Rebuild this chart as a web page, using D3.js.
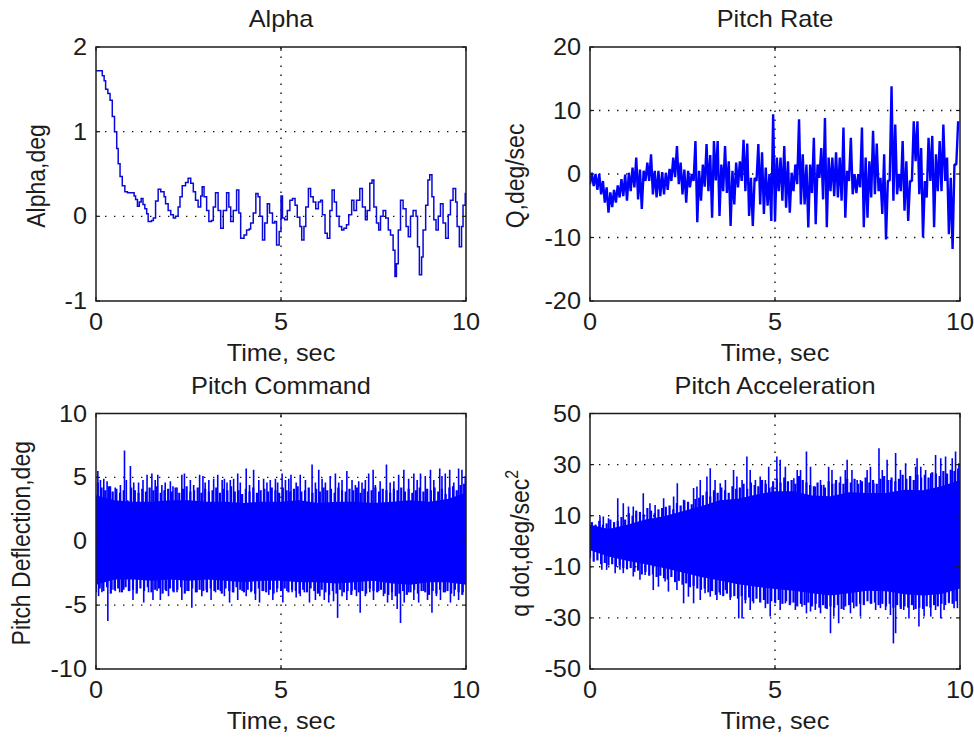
<!DOCTYPE html>
<html>
<head>
<meta charset="utf-8">
<script src="https://cdn.jsdelivr.net/npm/d3@7"></script>
<style>
  body { margin: 0; background: #fff; }
  svg text { font-family: "Liberation Sans", Arial, Helvetica, sans-serif; font-size: 23px; fill: #1c1c1c; }
</style>
</head>
<body>
<svg id="fig" width="974" height="737"></svg>
<script>
// ---------- shared axis values ----------
const timeTicks = [0, 5, 10];
const alphaTicks = [-1, 0, 1, 2];
const rateTicks = [-20, -10, 0, 10, 20];
const cmdTicks = [-10, -5, 0, 5, 10];
const accelTicks = [-50, -30, -10, 10, 30, 50];

// ---------- Alpha (deg), sample-and-hold trace: [time s, alpha deg] ----------
const alphaSamples = [
  [0,1.72],[0.17,1.66],[0.22,1.60],[0.26,1.50],[0.32,1.45],[0.38,1.37],[0.44,1.18],[0.50,1.00],
  [0.56,0.80],[0.60,0.62],[0.65,0.47],[0.71,0.36],[0.78,0.29],[0.85,0.28],[1.03,0.24],[1.07,0.20],
  [1.12,0.12],[1.17,0.17],[1.22,0.21],[1.27,0.14],[1.32,0.09],[1.37,0.03],[1.41,-0.06],[1.50,-0.05],
  [1.55,-0.02],[1.61,0.18],[1.68,0.32],[1.75,0.29],[1.84,0.23],[1.88,0.15],[1.95,0.07],[2.02,0.02],
  [2.09,-0.02],[2.15,0.00],[2.22,0.11],[2.27,0.23],[2.33,0.36],[2.42,0.40],[2.49,0.45],[2.56,0.39],
  [2.63,0.29],[2.69,0.19],[2.76,0.11],[2.83,0.24],[2.87,0.35],[2.92,0.23],[2.99,0.07],[3.05,-0.06],
  [3.12,-0.05],[3.17,0.11],[3.23,0.28],[3.30,0.07],[3.37,-0.14],[3.44,0.07],[3.53,0.28],[3.59,0.11],
  [3.64,-0.06],[3.71,0.07],[3.80,0.31],[3.86,0.04],[3.91,-0.26],[4.00,-0.22],[4.07,-0.16],[4.14,-0.15],
  [4.18,-0.08],[4.25,0.04],[4.32,0.27],[4.38,0.23],[4.43,0.00],[4.50,-0.28],[4.56,-0.08],[4.63,0.15],
  [4.69,0.04],[4.77,-0.08],[4.83,-0.06],[4.88,-0.34],[4.95,-0.18],[5.00,0.24],[5.04,-0.02],[5.10,-0.04],
  [5.17,0.07],[5.24,0.19],[5.31,0.21],[5.38,0.13],[5.44,-0.01],[5.51,-0.12],[5.56,-0.28],[5.62,-0.12],
  [5.67,0.11],[5.74,0.33],[5.80,0.23],[5.87,0.17],[5.94,0.09],[6.01,0.17],[6.07,0.19],[6.12,0.02],
  [6.19,-0.20],[6.25,-0.26],[6.32,0.07],[6.38,0.31],[6.44,0.17],[6.50,0.00],[6.57,-0.12],[6.64,-0.16],
  [6.70,-0.14],[6.77,-0.10],[6.83,0.02],[6.91,0.19],[6.97,0.07],[7.04,0.19],[7.13,0.33],[7.20,0.11],
  [7.28,-0.04],[7.33,0.07],[7.40,0.39],[7.46,0.43],[7.51,0.11],[7.58,-0.08],[7.64,-0.16],[7.69,0.00],
  [7.76,0.07],[7.83,-0.02],[7.90,-0.16],[7.96,-0.22],[8.03,-0.40],[8.08,-0.71],[8.12,-0.56],[8.17,-0.16],
  [8.23,0.19],[8.30,0.09],[8.38,-0.12],[8.44,-0.24],[8.50,0.00],[8.57,0.07],[8.65,0.00],[8.69,-0.36],
  [8.74,-0.69],[8.80,-0.48],[8.84,-0.16],[8.91,0.13],[8.97,0.43],[9.02,0.49],[9.08,0.23],[9.13,-0.04],
  [9.19,-0.16],[9.25,0.00],[9.31,0.15],[9.38,-0.08],[9.45,-0.26],[9.52,0.02],[9.58,0.19],[9.65,0.33],
  [9.72,0.17],[9.76,-0.12],[9.82,-0.36],[9.88,-0.12],[9.92,0.13],[9.98,0.27],[10,0.27]
];

// ---------- Pitch rate Q (deg/s): local minimum then maximum in each 0.1 s window ----------
const rateWindow = 0.1;
const rateLow = [
  -1.6,-1.9,-2.5,-3.2,-4.5,-6.1,-5.2,-4.5,-3.7,-3.5,
  -4.2,-2.7,-2.1,-4.0,-5.5,-1.1,-1.1,-3.2,-3.7,-3.5,
  -3.2,-2.5,-1.1,-0.5,-1.6,-3.2,-4.5,-2.1,-1.1,-7.6,
  -4.2,-2.0,-2.7,-6.9,-1.0,-6.6,-2.7,-3.0,-8.2,-4.8,
  -2.1,-1.1,-2.7,-6.6,-8.2,-1.1,-4.8,-6.3,-5.0,-7.4,
  -7.5,-2.7,-4.2,-5.3,-6.1,-2.7,-1.6,-4.8,-4.8,-8.4,
  -3.0,-7.9,-0.6,-4.0,-8.4,-2.7,-3.5,-3.7,-4.2,-6.9,
  -1.1,-3.2,-3.0,-2.1,-8.4,-6.9,-3.7,-3.2,-2.7,-6.3,
  -10.3,-1.0,-4.2,-3.2,-2.7,-5.8,-7.4,-1.1,2.0,-3.2,
  -10.0,-3.7,-1.1,-8.4,-2.7,-2.7,-1.1,-9.5,-11.8,1.5
];
const rateHigh = [
  0.2,0.0,0.0,-1.1,-2.1,-2.9,-2.5,-1.8,-0.8,-0.1,
  0.2,1.0,2.6,0.7,0.5,1.8,3.1,0.5,0.5,0.3,
  0.2,0.8,2.6,4.4,1.8,0.7,0.5,0.0,5.2,0.5,
  1.5,4.7,3.0,5.2,5.2,1.5,4.4,2.0,0.5,1.8,
  2.0,5.4,4.8,-0.6,-0.6,4.7,3.4,1.0,0.0,9.4,
  2.6,2.6,4.4,2.0,0.2,1.5,8.6,3.1,1.5,1.5,
  5.7,1.5,4.1,8.8,2.6,2.6,3.4,2.6,7.3,0.5,
  5.7,0.0,0.0,7.3,2.6,2.0,6.8,4.8,-0.6,3.1,
  -1.1,13.8,7.8,0.0,5.2,2.0,-1.1,8.3,8.3,4.1,
  -1.1,5.7,6.0,3.1,5.2,7.8,2.6,-0.6,1.5,8.3
];

// ---------- dense signals: solid core, fine edge every 0.1 s, and tall excursions ----------
const bandTime = [0,0.5,1,1.5,2,2.5,3,3.5,4,4.5,5,5.5,6,6.5,7,7.5,8,8.5,9,9.5,10];
const edgeStep = 0.1;

// Pitch command (deg)
const cmdCoreHigh = [3.6,3.2,3.1,3.1,3.2,3.2,3.1,3.1,3.0,3.1,3.1,3.2,3.0,3.1,3.1,3.0,3.1,3.2,3.1,3.3,3.8];
const cmdCoreLow = [-3.4,-3.0,-3.0,-3.1,-3.0,-3.1,-3.0,-3.1,-3.2,-3.1,-3.1,-3.2,-3.2,-3.3,-3.2,-3.1,-3.3,-3.4,-3.2,-3.2,-3.4];
const cmdEdgeHigh = [
  4.6,4.2,4.0,4.3,3.9,4.1,3.8,4.0,3.2,4.2, 4.0,3.8,4.1,3.9,4.2,4.0,4.3,3.8,4.0,4.1,
  3.9,4.2,3.8,4.1,4.3,3.9,4.0,4.2,3.8,4.1, 3.9,4.0,4.2,3.8,4.1,4.0,4.3,3.9,4.0,3.7,
  4.1,3.9,4.2,3.8,4.0,4.1,3.9,4.2,4.0,3.8, 4.2,4.0,3.9,4.1,4.3,3.9,4.0,4.2,3.8,4.1,
  3.9,4.2,4.0,4.1,3.8,4.2,4.0,3.9,4.1,4.0, 4.2,3.8,4.1,3.9,4.0,4.2,3.9,4.1,4.0,3.8,
  4.1,4.0,4.2,3.9,4.1,3.8,4.0,4.2,3.9,4.1, 4.0,4.2,3.9,4.1,3.7,4.2,4.3,4.0,4.4,4.5
];
const cmdEdgeLow = [
  -4.0,-3.7,-3.9,-3.6,-4.1,-3.8,-3.7,-4.0,-3.6,-3.9, -3.8,-4.1,-3.7,-3.9,-3.6,-4.0,-3.8,-3.7,-4.1,-3.9,
  -3.7,-4.0,-3.8,-3.6,-4.1,-3.9,-3.7,-4.0,-3.8,-3.9, -4.0,-3.7,-3.9,-3.8,-4.1,-3.7,-3.9,-4.0,-3.6,-3.8,
  -4.0,-3.8,-3.9,-4.1,-3.7,-3.9,-4.0,-3.8,-4.1,-3.7, -3.9,-3.7,-4.0,-3.8,-3.9,-4.1,-3.8,-4.0,-3.7,-3.9,
  -4.1,-3.8,-4.0,-4.2,-3.9,-4.1,-3.8,-4.0,-3.9,-4.2, -3.8,-4.0,-3.9,-4.1,-3.7,-3.9,-4.0,-3.8,-4.1,-4.2,
  -4.0,-4.3,-4.1,-3.9,-4.2,-4.0,-3.8,-4.1,-3.9,-4.0, -4.2,-3.9,-4.1,-3.8,-4.0,-3.9,-4.1,-3.8,-4.0,-4.2
];
const cmdPeaks = [
  [0.05,5.5],[0.12,4.8],[0.21,4.9],[0.30,4.7],[0.39,4.3],[0.52,4.2],[0.66,4.4],[0.77,7.1],[0.82,4.8],
  [0.93,5.9],[1.02,4.6],[1.15,4.6],[1.27,4.8],[1.38,5.2],[1.51,5.3],[1.60,4.8],[1.67,5.2],[1.78,4.4],
  [1.87,4.6],[2.01,4.7],[2.08,4.3],[2.19,4.2],[2.32,5.2],[2.39,5.3],[2.55,4.8],[2.64,4.4],[2.80,5.2],
  [2.89,5.1],[2.95,4.6],[3.05,4.8],[3.18,4.9],[3.29,5.2],[3.41,4.8],[3.47,4.9],[3.54,4.6],[3.63,4.8],
  [3.72,4.9],[3.83,5.3],[3.90,4.6],[4.06,5.7],[4.15,4.4],[4.26,5.6],[4.40,4.8],[4.53,4.9],[4.62,4.6],
  [4.71,4.8],[4.85,4.9],[4.91,4.6],[5.03,5.3],[5.12,4.8],[5.21,4.9],[5.27,5.2],[5.41,4.6],[5.52,5.2],
  [5.66,4.8],[5.84,6.0],[5.93,4.6],[6.02,5.6],[6.11,4.9],[6.20,4.6],[6.33,5.1],[6.47,5.3],[6.56,4.6],
  [6.65,4.8],[6.78,5.5],[6.92,4.8],[7.01,4.4],[7.10,4.7],[7.19,4.6],[7.28,4.8],[7.37,5.3],[7.49,5.6],
  [7.55,4.4],[7.68,4.7],[7.85,6.0],[7.95,4.6],[8.05,4.7],[8.18,5.2],[8.32,5.6],[8.45,4.9],[8.59,5.3],
  [8.68,4.8],[8.77,5.3],[8.90,5.1],[9.04,5.6],[9.13,4.8],[9.29,5.7],[9.35,5.1],[9.44,5.3],[9.56,5.6],
  [9.67,4.6],[9.80,5.7],[9.89,5.6],[9.98,5.1]
];
const cmdTroughs = [
  [0.07,-4.3],[0.16,-4.0],[0.32,-6.25],[0.43,-3.8],[0.52,-3.9],[0.64,-4.0],[0.75,-3.8],[0.88,-3.9],
  [1.00,-4.6],[1.11,-3.9],[1.29,-4.8],[1.42,-4.0],[1.54,-4.6],[1.65,-3.9],[1.74,-4.6],[1.87,-3.8],
  [1.96,-4.3],[2.08,-3.9],[2.19,-4.0],[2.32,-4.6],[2.46,-3.9],[2.59,-5.2],[2.73,-4.0],[2.86,-4.3],
  [2.98,-3.8],[3.11,-4.6],[3.23,-4.0],[3.36,-3.9],[3.47,-4.3],[3.61,-4.8],[3.72,-4.0],[3.83,-4.6],
  [3.95,-3.9],[4.06,-4.3],[4.19,-4.0],[4.31,-4.6],[4.42,-4.8],[4.53,-3.9],[4.67,-4.2],[4.78,-4.6],
  [4.89,-4.0],[5.05,-4.8],[5.16,-3.9],[5.30,-4.0],[5.41,-4.4],[5.52,-4.3],[5.63,-4.0],[5.77,-4.8],
  [5.93,-4.6],[6.05,-4.3],[6.17,-4.6],[6.29,-4.8],[6.42,-4.7],[6.53,-6.0],[6.65,-4.3],[6.78,-4.6],
  [6.92,-3.9],[7.04,-4.3],[7.14,-5.6],[7.28,-4.3],[7.40,-4.0],[7.50,-4.6],[7.64,-3.9],[7.77,-4.3],
  [7.88,-4.8],[8.00,-4.6],[8.14,-5.3],[8.23,-6.4],[8.33,-4.8],[8.45,-4.0],[8.59,-4.6],[8.72,-4.8],
  [8.86,-3.9],[8.96,-4.6],[9.08,-5.6],[9.20,-4.3],[9.31,-4.6],[9.44,-4.0],[9.58,-4.8],[9.68,-4.3],
  [9.80,-4.6],[9.92,-4.0]
];

// Pitch acceleration (deg/s^2)
const accelCoreHigh = [6.5,4.8,6.5,8.5,9.8,11.7,13.7,16.0,16.6,18.3,19.6,19.6,17.9,17.6,19.2,18.9,18.9,20.2,20.0,21.5,24.0];
const accelCoreLow = [-3.5,-6.0,-7.6,-9.0,-10.5,-12.2,-14.0,-15.4,-16.8,-17.8,-18.7,-19.4,-20.4,-21.2,-20.4,-19.4,-19.6,-20.7,-21.2,-20.6,-18.5];
const accelEdgeHigh = [
  7.5,6.5,8.0,6.5,7.0,8.5,7.5,8.0,9.5,8.5,
  11.0,10.0,12.0,11.5,10.5,13.0,12.0,11.0,12.5,13.0,
  13.5,14.0,12.5,15.0,14.0,16.0,15.5,14.5,16.5,17.0,
  18.0,19.5,17.5,20.0,19.0,21.0,20.0,19.0,21.5,20.5,
  21.0,22.5,20.5,23.0,22.0,21.5,24.0,22.5,21.0,23.5,
  24.5,23.0,25.0,23.5,24.0,22.5,25.5,24.0,23.0,22.0,
  21.5,23.0,22.0,21.0,23.5,22.5,24.0,23.0,22.5,24.5,
  23.0,24.5,22.5,23.5,25.0,23.0,24.0,22.5,24.5,25.5,
  24.0,25.0,23.5,24.5,26.0,24.5,25.5,24.0,26.0,25.0,
  26.0,25.0,27.0,26.5,25.5,27.5,26.5,28.0,27.5,28.5
];
const accelEdgeLow = [
  -6.5,-8.0,-7.5,-9.0,-8.5,-9.5,-9.0,-10.0,-9.5,-10.5,
  -11.0,-10.5,-12.0,-11.5,-13.0,-12.0,-13.5,-13.0,-14.0,-13.5,
  -14.5,-15.0,-14.0,-16.0,-15.5,-17.0,-16.5,-18.0,-17.5,-18.5,
  -19.0,-18.5,-20.0,-19.5,-21.0,-20.0,-21.5,-20.5,-22.0,-21.5,
  -22.5,-21.5,-23.0,-22.0,-23.5,-22.5,-24.0,-23.0,-24.5,-23.5,
  -24.0,-23.0,-24.5,-23.5,-25.0,-24.0,-25.5,-24.5,-25.0,-24.0,
  -25.5,-24.5,-26.0,-25.0,-26.5,-25.5,-26.0,-25.0,-26.5,-25.5,
  -25.0,-24.0,-25.5,-24.5,-25.0,-23.5,-24.5,-24.0,-25.0,-24.5,
  -25.5,-24.5,-26.0,-25.0,-26.5,-25.5,-26.0,-25.0,-26.5,-26.0,
  -26.5,-25.5,-26.0,-25.0,-25.5,-24.5,-25.0,-24.0,-24.5,-23.5
];
const accelPeaks = [
  [0.27,9.7],[0.36,9.7],[0.50,9.0],[0.75,16.8],[0.90,14.9],[1.04,13.6],[1.17,13.6],[1.44,18.8],
  [1.62,14.9],[1.76,14.2],[1.99,16.8],[2.26,17.5],[2.36,22.7],[2.53,16.2],[2.80,20.8],[2.89,21.4],
  [2.98,24.0],[3.16,25.3],[3.25,28.6],[3.38,24.0],[3.52,22.7],[3.66,24.0],[3.88,27.9],[3.97,25.3],
  [4.11,24.0],[4.24,33.2],[4.33,27.9],[4.47,24.0],[4.60,25.3],[4.74,24.0],[4.83,29.2],[4.92,21.4],
  [5.05,33.2],[5.14,31.9],[5.28,29.2],[5.51,24.7],[5.60,27.9],[5.69,27.9],[5.85,35.1],[5.96,29.2],
  [6.09,21.4],[6.23,24.0],[6.32,22.1],[6.45,29.2],[6.54,27.9],[6.63,22.7],[6.77,25.3],[6.90,27.9],
  [6.95,31.9],[7.08,27.9],[7.22,24.0],[7.31,24.0],[7.49,27.9],[7.58,29.2],[7.67,22.7],[7.81,36.4],
  [7.90,27.9],[8.03,31.9],[8.12,24.0],[8.26,34.5],[8.39,27.9],[8.53,30.5],[8.66,25.3],[8.80,29.2],
  [8.84,32.5],[8.94,29.2],[9.07,27.9],[9.21,26.6],[9.34,33.8],[9.48,32.5],[9.61,33.2],[9.79,32.5],
  [9.88,35.1],[9.97,30.5]
];
const accelTroughs = [
  [0.32,-11.2],[0.45,-11.2],[0.68,-12.5],[0.81,-11.2],[0.90,-12.5],[1.17,-13.8],[1.35,-15.1],[1.49,-13.2],
  [1.71,-19.1],[1.85,-17.8],[2.03,-15.8],[2.12,-19.7],[2.35,-19.1],[2.53,-24.3],[2.66,-21.7],[2.80,-24.3],
  [2.98,-23.0],[3.11,-20.4],[3.25,-21.7],[3.43,-23.0],[3.52,-21.0],[3.66,-19.1],[3.79,-23.0],[4.02,-30.2],
  [4.11,-30.2],[4.20,-24.3],[4.33,-26.9],[4.42,-24.3],[4.60,-23.0],[4.74,-26.2],[4.87,-29.5],[5.01,-24.3],
  [5.14,-26.9],[5.28,-24.3],[5.42,-24.3],[5.55,-26.9],[5.73,-25.6],[5.85,-28.2],[5.96,-27.5],[6.09,-26.9],
  [6.23,-28.2],[6.36,-26.2],[6.50,-36.0],[6.59,-29.5],[6.72,-32.1],[6.86,-26.9],[7.04,-28.2],[7.13,-26.2],
  [7.31,-29.5],[7.40,-24.3],[7.58,-24.3],[7.72,-26.9],[7.85,-26.2],[7.99,-26.9],[8.12,-28.9],[8.20,-40.0],
  [8.26,-36.0],[8.39,-25.6],[8.48,-26.9],[8.62,-30.2],[8.75,-26.9],[8.89,-33.4],[9.03,-29.5],[9.21,-29.5],
  [9.34,-26.9],[9.48,-30.2],[9.57,-26.9],[9.70,-24.3],[9.84,-26.2],[9.93,-26.2]
];

// ---------- layout ----------
const svg = d3.select("#fig");
const BLUE = "#0000ff";
const INK = "#1c1c1c";
const STRETCH = 1.1;   // text is drawn slightly wide

const panels = [
  { key: "alpha", left: 96, right: 466, top: 47, bottom: 301, domain: [-1, 2], ticks: alphaTicks,
    title: "Alpha", ylabel: "Alpha,deg", ylabelX: 45 },
  { key: "rate", left: 590, right: 960, top: 47, bottom: 301, domain: [-20, 20], ticks: rateTicks,
    title: "Pitch Rate", ylabel: "Q,deg/sec", ylabelX: 524 },
  { key: "cmd", left: 96, right: 466, top: 413.5, bottom: 669, domain: [-10, 10], ticks: cmdTicks,
    title: "Pitch Command", ylabel: "Pitch Deflection,deg", ylabelX: 30,
    core: [cmdCoreLow, cmdCoreHigh], edge: [cmdEdgeLow, cmdEdgeHigh], spikes: cmdPeaks.concat(cmdTroughs) },
  { key: "accel", left: 590, right: 960, top: 413.5, bottom: 669, domain: [-50, 50], ticks: accelTicks,
    title: "Pitch Acceleration", ylabel: null, ylabelX: 529,
    core: [accelCoreLow, accelCoreHigh], edge: [accelEdgeLow, accelEdgeHigh], spikes: accelPeaks.concat(accelTroughs) }
];

function wideText(parent, x, y, str, anchor) {
  return parent.append("text")
    .attr("transform", `translate(${x},${y}) scale(${STRETCH},1)`)
    .attr("text-anchor", anchor || "middle")
    .text(str);
}

panels.forEach(p => {
  const x = d3.scaleLinear().domain([0, 10]).range([p.left, p.right]);
  const y = d3.scaleLinear().domain(p.domain).range([p.bottom, p.top]);
  const g = svg.append("g").attr("class", "panel-" + p.key);

  const clipId = "clip-" + p.key;
  svg.append("clipPath").attr("id", clipId)
    .append("rect").attr("x", p.left).attr("y", p.top)
    .attr("width", p.right - p.left).attr("height", p.bottom - p.top);

  // dotted grid at interior ticks
  const grid = g.append("g").attr("stroke", "#111").attr("stroke-width", 1.4)
    .attr("stroke-dasharray", "1.4,7.6");
  timeTicks.filter(t => t > 0 && t < 10).forEach(t => {
    grid.append("line").attr("x1", x(t)).attr("x2", x(t)).attr("y1", p.bottom).attr("y2", p.top);
  });
  p.ticks.filter(v => v > p.domain[0] && v < p.domain[1]).forEach(v => {
    grid.append("line").attr("x1", p.left).attr("x2", p.right).attr("y1", y(v)).attr("y2", y(v));
  });

  const plot = g.append("g").attr("clip-path", `url(#${clipId})`);

  if (p.key === "alpha") {
    const line = d3.line().x(d => x(d[0])).y(d => y(d[1])).curve(d3.curveStepAfter);
    plot.append("path").datum(alphaSamples).attr("d", line)
      .attr("fill", "none").attr("stroke", "#0a0ad8").attr("stroke-width", 1.5);
  }

  if (p.key === "rate") {
    const pts = [];
    rateLow.forEach((lo, i) => {
      pts.push([i * rateWindow, lo]);
      pts.push([i * rateWindow + rateWindow / 2, rateHigh[i]]);
    });
    const line = d3.line().x(d => x(d[0])).y(d => y(d[1]));
    plot.append("path").datum(pts).attr("d", line)
      .attr("fill", "none").attr("stroke", BLUE).attr("stroke-width", 2.4)
      .attr("stroke-linejoin", "bevel");
  }

  if (p.core) {
    const [lo, hi] = p.core;
    const band = bandTime.map((t, i) => [t, lo[i], hi[i]]);
    const area = d3.area().x(d => x(d[0])).y0(d => y(d[1])).y1(d => y(d[2]));
    plot.append("path").datum(band).attr("d", area).attr("fill", BLUE);

    // fine edge strokes every 0.1 s, from the core out to the local extreme
    const [eLo, eHi] = p.edge;
    const edgePts = [];
    eHi.forEach((v, i) => edgePts.push([i * edgeStep + edgeStep / 2, v]));
    eLo.forEach((v, i) => edgePts.push([i * edgeStep, v]));
    plot.selectAll("line.edge").data(edgePts).join("line")
      .attr("class", "edge")
      .attr("x1", d => x(d[0])).attr("x2", d => x(d[0]))
      .attr("y1", y(0)).attr("y2", d => y(d[1]))
      .attr("stroke", BLUE).attr("stroke-width", 2.2);

    plot.selectAll("line.spike").data(p.spikes).join("line")
      .attr("class", "spike")
      .attr("x1", d => x(d[0])).attr("x2", d => x(d[0]))
      .attr("y1", y(0)).attr("y2", d => y(d[1]))
      .attr("stroke", BLUE).attr("stroke-width", 1.6);
  }

  // inward tick marks on all four sides
  const tick = 4;
  const tg = g.append("g").attr("stroke", INK).attr("stroke-width", 1.2);
  timeTicks.forEach(t => {
    tg.append("line").attr("x1", x(t)).attr("x2", x(t)).attr("y1", p.bottom).attr("y2", p.bottom - tick);
    tg.append("line").attr("x1", x(t)).attr("x2", x(t)).attr("y1", p.top).attr("y2", p.top + tick);
  });
  p.ticks.forEach(v => {
    tg.append("line").attr("x1", p.left).attr("x2", p.left + tick).attr("y1", y(v)).attr("y2", y(v));
    tg.append("line").attr("x1", p.right).attr("x2", p.right - tick).attr("y1", y(v)).attr("y2", y(v));
  });

  // frame
  g.append("rect").attr("x", p.left).attr("y", p.top)
    .attr("width", p.right - p.left).attr("height", p.bottom - p.top)
    .attr("fill", "none").attr("stroke", INK).attr("stroke-width", 1.5);

  // tick labels
  timeTicks.forEach(t => wideText(g, x(t), p.bottom + 29, String(t), "middle"));
  p.ticks.forEach(v => wideText(g, p.left - 9, y(v) + 8, String(v), "end"));

  // title and axis labels
  wideText(g, (p.left + p.right) / 2, p.top - 20, p.title, "middle");
  wideText(g, (p.left + p.right) / 2, p.bottom + 60, "Time, sec", "middle");

  const ycen = (p.top + p.bottom) / 2 + 2;
  const yl = g.append("text")
    .attr("transform", `translate(${p.ylabelX},${ycen}) scale(${STRETCH},1) rotate(-90)`)
    .attr("text-anchor", "middle");
  if (p.ylabel) {
    yl.text(p.ylabel);
  } else {
    yl.append("tspan").text("q dot,deg/sec");
    yl.append("tspan").attr("font-size", 16).attr("dy", -10).text("2");
  }
});
</script>
</body>
</html>
